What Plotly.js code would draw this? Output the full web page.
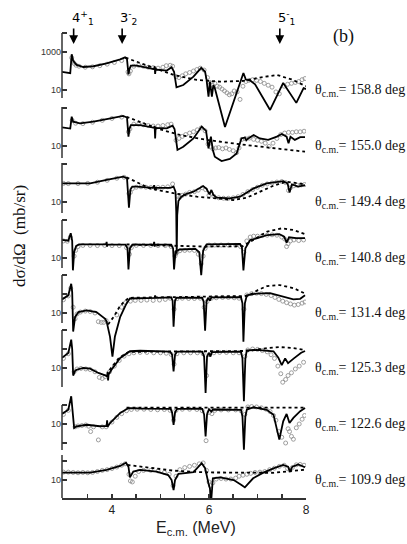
<!DOCTYPE html>
<html>
<head>
<meta charset="utf-8">
<script src="https://cdn.plot.ly/plotly-3.0.1.min.js"></script>
<style>
  html, body { margin: 0; padding: 0; background: #fff; }
  #chart { width: 407px; height: 544px; }
</style>
</head>
<body>
<div id="chart"></div>
<script>
// --- Data: excitation functions, one block per scattering angle ---
// fitN = R-matrix fit (solid), bgN = calculation without resonances (dashed), expN = measured points
const ANGLES = ['158.8', '155.0', '149.4', '140.8', '131.4', '125.3', '122.6', '109.9'];

const E_TICKS = [3.5, 4, 4.5, 5, 5.5, 6, 6.5, 7, 7.5, 8];
const E_LABELS = ['', '4', '', '', '', '6', '', '', '', '8'];

const STATES = ['4<sup>+</sup><sub>1</sub>', '3<sup>-</sup><sub>2</sub>', '5<sup>-</sup><sub>1</sub>'];
const STATE_E = [3.21, 4.21, 7.46];

// 158.8 deg
const fit1E = [2.97, 3.10, 3.14, 3.17, 3.20, 3.27, 3.41, 3.62, 3.89, 4.17, 4.27, 4.31, 4.34, 4.36, 4.39, 4.51, 4.70, 4.87, 4.88, 4.89, 4.90, 5.13, 5.23, 5.28, 5.33, 5.47, 5.68, 5.84, 5.92, 5.95, 5.99, 6.02, 6.06, 6.09, 6.12, 6.33, 6.71, 6.76, 6.85, 6.95, 7.26, 7.53, 7.80, 7.95, 8.00];
const fit1 = [91, 79, 76, 760, 340, 210, 162, 178, 251, 407, 525, 417, 66, 126, 190, 190, 151, 126, 178, 71, 120, 105, 158, 91, 13.8, 18.2, 50, 145, 91, 34, 4.5, 27.5, 4.5, 18.2, 12.6, 0.112, 78, 35.5, 31.6, 20, 0.89, 23.4, 2.1, 12.6, 11.2];
const bg1E = [4.28, 4.78, 5.27, 5.75, 6.23, 6.71, 7.05, 7.40, 7.70, 8.00];
const bg1 = [501, 170, 62, 34, 27.5, 30, 45, 62, 36, 16];
const exp1E = [3.17, 3.19, 3.22, 3.26, 3.32, 3.45, 3.60, 3.75, 3.90, 4.05, 4.20, 4.33, 4.35, 4.38, 4.45, 4.55, 4.65, 4.75, 4.85, 4.95, 5.05, 5.12, 5.20, 5.25, 5.32, 5.38, 5.45, 5.52, 5.60, 5.68, 5.75, 5.82, 5.90, 5.97, 6.02, 6.07, 6.12, 6.17, 6.22, 6.27, 6.32, 6.37, 6.42, 6.47, 6.52, 6.58, 6.64, 6.70, 6.76, 6.82, 6.90, 6.98, 7.06, 7.14, 7.22, 7.30, 7.38, 7.45, 7.55, 7.62, 7.70, 7.78, 7.85, 7.92, 7.98];
const exp1 = [500, 316, 251, 200, 178, 158, 166, 190, 229, 282, 355, 89, 71, 100, 178, 200, 178, 158, 151, 141, 158, 190, 200, 178, 50, 45, 56, 71, 83, 100, 120, 141, 112, 45, 25, 17.8, 22.4, 15.8, 14.1, 11.2, 8.9, 7.1, 5.6, 6.3, 8.9, 7.9, 3.2, 15.8, 28, 32, 35, 32, 28, 22.4, 17.8, 14.1, 7.9, 6.3, 15.8, 20, 22.4, 25, 28, 35, 40];

// 155.0 deg
const fit2E = [2.97, 3.10, 3.14, 3.17, 3.20, 3.34, 3.62, 3.89, 4.23, 4.31, 4.34, 4.36, 4.39, 4.58, 4.87, 4.88, 4.89, 4.90, 5.13, 5.25, 5.29, 5.35, 5.47, 5.68, 5.85, 5.94, 5.99, 6.04, 6.08, 6.12, 6.26, 6.43, 6.57, 6.67, 6.74, 6.77, 6.81, 6.92, 7.05, 7.22, 7.40, 7.50, 7.60, 7.64, 7.68, 7.77, 7.88, 7.98];
const fit2 = [95, 85, 83, 347, 190, 155, 190, 263, 380, 316, 31, 79, 126, 126, 91, 112, 25, 89, 85, 117, 79, 6.2, 9.1, 25, 105, 62, 7.6, 31, 6.2, 2.75, 1.62, 2.1, 4.1, 25, 28, 20, 25, 38, 25, 21, 31, 43, 31, 13.8, 31, 21, 29, 29];
const bg2E = [4.30, 4.92, 5.40, 5.95, 6.64, 7.33, 7.98];
const bg2 = [347, 85, 38, 21, 12.3, 7.6, 5.0];
const exp2E = [3.18, 3.25, 3.40, 3.60, 3.80, 4.00, 4.20, 4.34, 4.37, 4.45, 4.55, 4.65, 4.75, 4.85, 4.95, 5.05, 5.15, 5.22, 5.32, 5.38, 5.45, 5.52, 5.60, 5.68, 5.76, 5.84, 5.92, 5.98, 6.03, 6.08, 6.14, 6.20, 6.28, 6.35, 6.42, 6.50, 6.57, 6.62, 6.68, 6.75, 6.83, 6.92, 7.00, 7.08, 7.16, 7.24, 7.32, 7.40, 7.48, 7.56, 7.64, 7.72, 7.80, 7.88, 7.96];
const exp2 = [224, 158, 151, 178, 224, 282, 331, 56, 79, 141, 141, 132, 120, 112, 112, 120, 132, 141, 20, 25, 32, 40, 48, 56, 71, 89, 63, 12.6, 8.9, 7.1, 7.9, 8.3, 7.1, 7.9, 6.6, 5.6, 4.5, 7.9, 22.4, 24, 26, 22.4, 20, 17.8, 14.1, 9.5, 14.1, 25, 40, 48, 52, 52, 56, 56, 60];

// 149.4 deg
const fit3E = [2.97, 3.55, 3.89, 4.23, 4.31, 4.35, 4.38, 4.42, 4.51, 4.85, 4.87, 4.89, 4.91, 5.20, 5.27, 5.31, 5.325, 5.335, 5.345, 5.37, 5.42, 5.50, 5.68, 5.81, 5.88, 5.95, 6.01, 6.05, 6.09, 6.16, 6.43, 6.64, 6.92, 7.19, 7.53, 7.62, 7.66, 7.71, 7.84, 7.98];
const fit3 = [95, 95, 145, 214, 178, 5.0, 45, 65, 65, 56, 76, 42, 56, 56, 65, 35, 3.2, 0.016, 2.0, 11.2, 17.8, 25, 35, 52, 69, 50, 25, 43, 23.4, 17, 15.5, 19, 52, 95, 126, 95, 32, 85, 65, 78];
const bg3E = [4.30, 4.78, 5.27, 5.75, 6.16, 6.50, 6.78, 7.06, 7.33, 7.60, 7.98];
const bg3 = [200, 52, 29, 19, 15.5, 12.6, 17, 35, 72, 117, 85];
const exp3E = [3.00, 3.10, 3.30, 3.50, 3.70, 3.90, 4.10, 4.25, 4.35, 4.38, 4.42, 4.50, 4.60, 4.70, 4.80, 4.95, 5.05, 5.15, 5.25, 5.35, 5.40, 5.45, 5.52, 5.60, 5.70, 5.78, 5.86, 5.93, 6.00, 6.05, 6.10, 6.20, 6.30, 6.40, 6.50, 6.60, 6.70, 6.80, 6.90, 7.00, 7.10, 7.20, 7.30, 7.40, 7.50, 7.58, 7.64, 7.68, 7.75, 7.82, 7.90, 7.97];
const exp3 = [95, 93, 93, 95, 110, 138, 178, 200, 28, 32, 50, 60, 63, 60, 58, 58, 60, 63, 89, 20, 17.8, 22.4, 26, 32, 35, 42, 56, 45, 22.4, 28, 20, 16.6, 15.8, 15.8, 16.6, 19, 25, 35, 45, 60, 76, 89, 100, 112, 120, 105, 40, 56, 71, 76, 79, 83];

// 140.8 deg
const fit4E = [2.97, 3.10, 3.15, 3.18, 3.195, 3.22, 3.26, 3.32, 3.88, 3.89, 3.90, 3.91, 4.28, 4.32, 4.34, 4.37, 4.42, 4.86, 4.87, 4.88, 4.89, 5.22, 5.26, 5.28, 5.31, 5.40, 5.72, 5.80, 5.84, 5.88, 5.95, 6.64, 6.68, 6.71, 6.75, 6.85, 7.00, 7.20, 7.45, 7.55, 7.60, 7.65, 7.80, 7.98];
const fit4 = [89, 81, 200, 79, 2.24, 20, 42, 52, 52, 71, 40, 52, 50, 32, 2.5, 32, 50, 52, 71, 40, 51, 50, 32, 2.5, 22.4, 28, 30, 20, 1.26, 25, 52, 55, 35, 2.24, 32, 89, 110, 162, 182, 132, 65, 123, 110, 110];
const bg4E = [4.30, 5.30, 5.90, 6.70, 6.85, 7.20, 7.50, 7.75, 7.98];
const bg4 = [52, 43, 40, 42, 72, 245, 363, 295, 182];
const exp4E = [3.00, 3.08, 3.14, 3.22, 3.25, 3.30, 3.40, 3.55, 3.70, 3.85, 4.00, 4.15, 4.30, 4.36, 4.40, 4.50, 4.65, 4.80, 4.95, 5.10, 5.22, 5.30, 5.34, 5.40, 5.50, 5.60, 5.70, 5.78, 5.84, 5.88, 5.92, 6.00, 6.12, 6.25, 6.40, 6.55, 6.65, 6.72, 6.78, 6.85, 6.92, 7.00, 7.10, 7.20, 7.30, 7.40, 7.50, 7.56, 7.60, 7.63, 7.68, 7.75, 7.85, 7.95];
const exp4 = [79, 76, 126, 12.6, 25, 40, 46, 46, 45, 46, 45, 45, 35, 15.8, 35, 46, 46, 46, 45, 45, 40, 12.6, 20, 24, 25, 26, 25, 15.8, 5.0, 12.6, 32, 48, 48, 48, 48, 46, 40, 20, 79, 126, 141, 141, 151, 158, 166, 158, 126, 100, 40, 56, 79, 89, 83, 89];

// 131.4 deg
const fit5E = [2.97, 3.10, 3.16, 3.18, 3.20, 3.24, 3.31, 3.48, 3.68, 3.86, 3.89, 3.96, 4.01, 4.06, 4.17, 4.30, 4.37, 4.88, 4.89, 4.90, 5.22, 5.25, 5.27, 5.30, 5.33, 5.86, 5.89, 5.92, 5.95, 5.98, 6.02, 6.05, 6.66, 6.69, 6.71, 6.74, 6.78, 6.98, 7.26, 7.53, 7.74, 7.88, 7.98];
const fit5 = [52, 85, 347, 126, 1.05, 6.2, 11.2, 13.8, 11.2, 5.0, 3.5, 0.56, 0.05, 0.56, 6.3, 32, 58, 63, 83, 63, 66, 45, 1.9, 45, 62, 63, 40, 1.17, 40, 63, 45, 66, 69, 32, 0.31, 32, 85, 105, 112, 69, 52, 56, 85];
const bg5E = [3.92, 4.05, 4.15, 4.25, 4.35, 5.50, 6.80, 7.00, 7.20, 7.46, 7.75, 7.98];
const bg5 = [2.5, 7.1, 20, 40, 63, 69, 79, 158, 263, 295, 200, 105];
const exp5E = [3.00, 3.10, 3.15, 3.20, 3.24, 3.28, 3.35, 3.45, 3.55, 3.65, 3.72, 3.78, 3.83, 3.88, 4.10, 4.20, 4.28, 4.38, 4.48, 4.60, 4.72, 4.85, 4.98, 5.10, 5.20, 5.28, 5.34, 5.45, 5.58, 5.70, 5.82, 5.90, 5.96, 6.05, 6.15, 6.28, 6.40, 6.52, 6.62, 6.72, 6.78, 6.88, 6.98, 7.08, 7.18, 7.28, 7.36, 7.44, 7.52, 7.60, 7.68, 7.76, 7.84, 7.92, 7.98];
const exp5 = [50, 79, 200, 20, 5.0, 8.9, 11.2, 12.6, 12, 10, 3.5, 3.2, 3.2, 4.0, 7.9, 20, 35, 42, 46, 46, 48, 46, 48, 52, 60, 15.8, 56, 60, 58, 58, 60, 20, 40, 60, 63, 66, 66, 63, 60, 15.8, 89, 105, 110, 105, 95, 83, 66, 52, 42, 35, 30, 26, 28, 33, 38];

// 125.3 deg
const fit6E = [2.97, 3.10, 3.16, 3.18, 3.20, 3.24, 3.27, 3.41, 3.55, 3.72, 3.86, 3.90, 3.91, 3.92, 3.93, 3.99, 4.17, 4.37, 4.58, 5.20, 5.24, 5.27, 5.30, 5.34, 5.86, 5.90, 5.93, 5.96, 6.00, 6.03, 6.06, 6.66, 6.69, 6.72, 6.75, 6.78, 6.98, 7.33, 7.43, 7.50, 7.57, 7.63, 7.75, 7.90, 7.98];
const fit6 = [34, 62, 309, 100, 4.0, 7.1, 8.1, 10, 9.3, 5.5, 4.1, 3.6, 6.3, 2.2, 4.5, 8.1, 34, 76, 81, 72, 50, 6.6, 50, 72, 72, 40, 0.48, 40, 63, 40, 69, 72, 32, 0.18, 32, 85, 89, 76, 35, 14.1, 32, 17.8, 32, 63, 79];
const bg6E = [3.95, 4.15, 4.35, 5.50, 6.80, 7.20, 7.45, 7.70, 7.98];
const bg6 = [7.9, 35, 71, 76, 79, 112, 126, 115, 89];
const exp6E = [3.00, 3.10, 3.22, 3.28, 3.36, 3.46, 3.55, 3.65, 3.74, 3.80, 3.86, 3.95, 4.05, 4.15, 4.25, 4.35, 4.45, 4.58, 4.72, 4.86, 5.00, 5.12, 5.22, 5.28, 5.34, 5.48, 5.62, 5.76, 5.88, 5.95, 6.00, 6.10, 6.22, 6.36, 6.50, 6.62, 6.74, 6.80, 6.90, 7.00, 7.10, 7.20, 7.28, 7.35, 7.42, 7.48, 7.52, 7.58, 7.63, 7.70, 7.78, 7.86, 7.95];
const exp6 = [32, 56, 6.3, 8.9, 9.5, 8.9, 8.3, 6.3, 3.2, 2.8, 3.5, 6.3, 12.6, 25, 42, 56, 63, 66, 66, 63, 63, 60, 52, 15.8, 56, 63, 63, 63, 56, 4.0, 50, 63, 66, 66, 63, 63, 40, 89, 100, 95, 83, 71, 50, 32, 12.6, 5.0, 1.78, 2.5, 4.0, 5.6, 8.9, 12.6, 20];

// 122.6 deg
const fit7E = [2.97, 3.10, 3.16, 3.18, 3.22, 3.27, 3.48, 3.75, 3.89, 3.90, 3.91, 3.96, 4.17, 4.34, 4.60, 5.21, 5.24, 5.27, 5.30, 5.34, 5.86, 5.90, 5.93, 5.96, 6.00, 6.05, 6.08, 6.66, 6.69, 6.72, 6.75, 6.78, 6.92, 7.19, 7.33, 7.41, 7.45, 7.53, 7.60, 7.66, 7.74, 7.88, 7.98];
const fit7 = [34, 56, 288, 100, 6.2, 7.6, 9.1, 7.6, 7.9, 15.8, 7.1, 11.2, 38, 69, 65, 63, 40, 9.1, 40, 63, 63, 32, 2.24, 32, 60, 45, 58, 56, 25, 0.45, 25, 56, 76, 56, 31, 4.1, 1.5, 13.8, 34, 11.2, 21, 47, 69];
const bg7E = [4.30, 5.50, 6.80, 7.98];
const bg7 = [72, 72, 72, 72];
const exp7E = [3.00, 3.10, 3.24, 3.30, 3.38, 3.46, 3.52, 3.56, 3.62, 3.72, 3.80, 3.88, 4.00, 4.10, 4.20, 4.30, 4.40, 4.52, 4.66, 4.80, 4.94, 5.08, 5.20, 5.27, 5.32, 5.45, 5.60, 5.75, 5.86, 5.94, 6.00, 6.06, 6.12, 6.25, 6.40, 6.55, 6.66, 6.74, 6.80, 6.88, 6.98, 7.08, 7.18, 7.26, 7.33, 7.38, 7.44, 7.50, 7.58, 7.63, 7.66, 7.70, 7.74, 7.80, 7.86, 7.92, 7.97];
const exp7 = [32, 52, 7.1, 7.9, 8.3, 8.9, 7.6, 4.0, 7.1, 1.45, 7.1, 7.1, 12.6, 22.4, 35, 50, 58, 60, 60, 58, 56, 58, 52, 15.8, 52, 60, 60, 58, 50, 1.32, 40, 35, 52, 55, 55, 55, 50, 32, 79, 83, 79, 71, 60, 45, 28, 15.8, 4.0, 2.0, 1.0, 5.6, 4.0, 2.24, 1.58, 6.3, 10, 17.8, 28];

// 109.9 deg
const fit8E = [2.97, 3.55, 3.89, 4.17, 4.29, 4.34, 4.37, 4.44, 4.58, 4.92, 5.16, 5.23, 5.27, 5.30, 5.37, 5.68, 5.85, 5.92, 5.99, 6.02, 6.04, 6.06, 6.08, 6.23, 6.51, 6.67, 6.74, 6.91, 7.12, 7.33, 7.53, 7.63, 7.67, 7.72, 7.84, 7.98];
const fit8 = [24.5, 24.5, 34, 55, 81, 50, 13.8, 27.5, 34, 27.5, 18.2, 10, 2.95, 10, 21, 26, 76, 42, 6.6, 3.6, 0.5, 4.0, 12.3, 13.8, 10, 5.5, 4.1, 12.3, 24.5, 41, 62, 50, 27.5, 50, 66, 47];
const bg8E = [4.32, 5.27, 5.95, 7.33, 7.98];
const bg8 = [62, 31, 25, 24, 35];
const exp8E = [3.00, 3.10, 3.20, 3.30, 3.40, 3.50, 3.60, 3.70, 3.80, 3.90, 4.00, 4.10, 4.20, 4.27, 4.35, 4.38, 4.42, 4.48, 4.55, 4.65, 4.80, 4.95, 5.08, 5.18, 5.26, 5.32, 5.40, 5.50, 5.60, 5.70, 5.80, 5.88, 5.95, 6.00, 6.03, 6.08, 6.15, 6.25, 6.35, 6.45, 6.55, 6.62, 6.70, 6.78, 6.86, 6.95, 7.05, 7.15, 7.25, 7.35, 7.45, 7.55, 7.62, 7.67, 7.72, 7.80, 7.88, 7.96];
const exp8 = [26, 26, 25, 24, 25, 24, 25, 28, 32, 35, 40, 48, 60, 71, 20, 8.9, 7.9, 15.8, 28, 32, 32, 30, 25, 20, 5.0, 15.8, 35, 45, 52, 60, 71, 79, 32, 7.9, 5.0, 7.1, 11.2, 12, 11.2, 11.2, 12.6, 15.8, 17.8, 20, 22.4, 25, 26, 28, 35, 42, 52, 60, 40, 32, 45, 63, 66, 60];

const PANELS = [
  [fit1E, fit1, bg1E, bg1, exp1E, exp1],
  [fit2E, fit2, bg2E, bg2, exp2E, exp2],
  [fit3E, fit3, bg3E, bg3, exp3E, exp3],
  [fit4E, fit4, bg4E, bg4, exp4E, exp4],
  [fit5E, fit5, bg5E, bg5, exp5E, exp5],
  [fit6E, fit6, bg6E, bg6, exp6E, exp6],
  [fit7E, fit7, bg7E, bg7, exp7E, exp7],
  [fit8E, fit8, bg8E, bg8, exp8E, exp8],
];

// ticks shown on each panel's own log axis
const Y_TICKS = [[1e4, 1e3, 10], [1e3, 10], [1e3, 10], [1e3, 10], [1e3, 100, 10], [1e3, 100, 10], [100, 10, 1], [100, 10]];
const Y_LABELS = [['', '1000', '10'], ['', '10'], ['', '10'], ['', '10'], ['', '', '10'], ['', '', '10'], ['', '10', ''], ['', '10']];

// --- Geometry (pixels in the 407x544 frame) ---
const TOP = 25, BOTTOM = 498, PX_PER_DECADE = 19;
const PANEL_Y10 = [90, 146, 202, 258, 313, 368, 424, 480];   // row of the "10" tick per panel
const AXIS_SPAN = [[33, 98], [107, 158], [163, 213], [220, 268], [275, 323], [330, 387], [405, 450], [455, 498]];
const paperY = px => (BOTTOM - px) / (BOTTOM - TOP);
const paperX = px => (px - 62) / 244;

const traces = [];
const shapes = [];
const annotations = [];

const layout = {
  width: 407,
  height: 544,
  margin: { l: 62, r: 101, t: TOP, b: 544 - BOTTOM },
  paper_bgcolor: '#fff',
  plot_bgcolor: 'rgba(0,0,0,0)',
  showlegend: false,
  font: { family: 'Liberation Sans, Arial, sans-serif', color: '#222' },
  xaxis: {
    range: [2.97, 8.0],
    anchor: 'y',
    showline: true,
    linecolor: '#333',
    linewidth: 1.5,
    showgrid: false,
    zeroline: false,
    ticks: 'inside',
    ticklen: 4,
    tickwidth: 1.5,
    tickcolor: '#333',
    tickmode: 'array',
    tickvals: E_TICKS,
    ticktext: E_LABELS,
    tickfont: { family: 'Liberation Sans, Arial, sans-serif', size: 12, color: '#222' },
    fixedrange: true,
  },
};

PANELS.forEach(([fe, fv, be, bv, de, dv], i) => {
  const yId = i === 0 ? 'y' : 'y' + (i + 1);
  const yKey = i === 0 ? 'yaxis' : 'yaxis' + (i + 1);
  const y10 = PANEL_Y10[i];

  layout[yKey] = {
    type: 'log',
    domain: [0, 1],
    range: [1 - (BOTTOM - y10) / PX_PER_DECADE, 1 + (y10 - TOP) / PX_PER_DECADE],
    anchor: 'x',
    side: 'left',
    showline: false,
    showgrid: false,
    zeroline: false,
    ticks: 'inside',
    ticklen: 5,
    tickwidth: 1.5,
    tickcolor: '#333',
    tickmode: 'array',
    tickvals: Y_TICKS[i],
    ticktext: Y_LABELS[i],
    tickfont: { family: 'Liberation Sans, Arial, sans-serif', size: 9, color: '#333' },
    fixedrange: true,
  };
  if (i > 0) layout[yKey].overlaying = 'y';

  traces.push({
    x: de, y: dv, xaxis: 'x', yaxis: yId,
    type: 'scatter', mode: 'markers',
    marker: { symbol: 'circle-open', size: 4, color: '#939393', line: { width: 0.9 } },
    hoverinfo: 'skip',
  });
  traces.push({
    x: be, y: bv, xaxis: 'x', yaxis: yId,
    type: 'scatter', mode: 'lines',
    line: { color: '#000', width: 1.8, dash: '3px,3px' },
    hoverinfo: 'skip',
  });
  traces.push({
    x: fe, y: fv, xaxis: 'x', yaxis: yId,
    type: 'scatter', mode: 'lines',
    line: { color: '#000', width: 1.8 },
    hoverinfo: 'skip',
  });

  // left axis piece for this panel
  shapes.push({
    type: 'line', xref: 'paper', yref: 'paper',
    x0: 0, x1: 0, y0: paperY(AXIS_SPAN[i][1]), y1: paperY(AXIS_SPAN[i][0]),
    line: { color: '#333', width: 1.5 },
  });

  annotations.push({
    xref: 'paper', yref: yId, x: paperX(313), y: 1,
    xanchor: 'left', yanchor: 'middle', showarrow: false,
    text: 'θ<sub>c.m.</sub>= ' + ANGLES[i] + ' deg',
    font: { family: 'Liberation Serif, Times New Roman, serif', size: 14, color: '#111' },
  });
});

// --- State markers (arrows at the top) ---
STATES.forEach((label, k) => {
  annotations.push({
    xref: 'x', yref: 'paper', x: STATE_E[k], y: paperY(44),
    ax: 0, ay: -17, showarrow: true, text: '',
    arrowhead: 2, arrowsize: 1.1, arrowwidth: 1.6, arrowcolor: '#000', standoff: 0,
  });
  annotations.push({
    xref: 'x', yref: 'paper', x: STATE_E[k], y: paperY(18),
    xanchor: 'left', yanchor: 'middle', xshift: -4, showarrow: false,
    text: label,
    font: { family: 'DejaVu Sans, sans-serif', size: 13, color: '#000' },
  });
});

// --- Titles and panel tag ---
annotations.push({
  xref: 'paper', yref: 'paper', x: paperX(343), y: paperY(37),
  xanchor: 'center', yanchor: 'middle', showarrow: false, text: '(b)',
  font: { family: 'Liberation Serif, Times New Roman, serif', size: 18, color: '#111' },
});
annotations.push({
  xref: 'paper', yref: 'paper', x: paperX(20), y: paperY(236),
  xanchor: 'center', yanchor: 'middle', showarrow: false, textangle: -90,
  text: 'dσ/dΩ\u00a0\u00a0(mb/sr)',
  font: { family: 'Liberation Serif, Times New Roman, serif', size: 17, color: '#111' },
});
annotations.push({
  xref: 'paper', yref: 'paper', x: paperX(196), y: paperY(528),
  xanchor: 'center', yanchor: 'middle', showarrow: false,
  text: 'E<sub>c.m.</sub> (MeV)',
  font: { family: 'Liberation Sans, Arial, sans-serif', size: 16, color: '#222' },
});

layout.shapes = shapes;
layout.annotations = annotations;

Plotly.newPlot('chart', traces, layout, { staticPlot: true, displayModeBar: false });
</script>
</body>
</html>
